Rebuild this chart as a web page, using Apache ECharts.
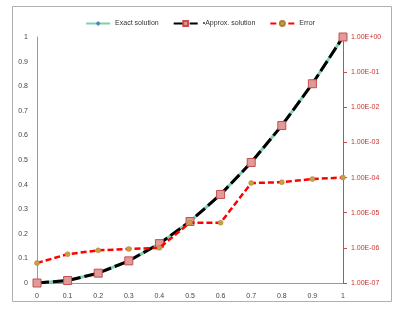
<!DOCTYPE html>
<html><head><meta charset="utf-8">
<script src="https://cdn.jsdelivr.net/npm/echarts@6/dist/echarts.min.js"></script>
<style>html,body{margin:0;padding:0;background:#fff}#c{width:400px;height:309px}</style>
</head><body><div id="c"></div>
<script>
const xValues = [0, 0.1, 0.2, 0.3, 0.4, 0.5, 0.6, 0.7, 0.8, 0.9, 1];
const exactValues = [0, 0.01, 0.04, 0.09, 0.16, 0.25, 0.36, 0.49, 0.64, 0.81, 1];
const approxValues = [0, 0.01, 0.04, 0.09, 0.16, 0.25, 0.36, 0.49, 0.64, 0.81, 1];
const errorValues = [3.7e-7, 6.6e-7, 8.5e-7, 9.3e-7, 1.0e-6, 5.2e-6, 5.2e-6, 7.0e-5, 7.4e-5, 9.1e-5, 1.0e-4];
const seriesNames = ['Exact solution', '\u2022Approx. solution', 'Error'];

const pair = (ys) => xValues.map((x, i) => [x, ys[i]]);
function sci(v) {
  const e = Math.round(Math.log10(v));
  const m = v / Math.pow(10, e);
  const sign = e < 0 ? '-' : '+';
  const a = Math.abs(e);
  return m.toFixed(2) + 'E' + sign + (a < 10 ? '0' + a : a);
}
const font = 'Liberation Sans';
const chart = echarts.init(document.getElementById('c'), null, {renderer: 'canvas'});
chart.setOption({
  animation: false,
  textStyle: {fontFamily: font},
  graphic: [{type: 'rect', shape: {x: 12.5, y: 6.5, width: 379, height: 295}, style: {fill: 'none', stroke: '#b0b0b0', lineWidth: 1}, silent: true}],
  legend: {
    top: 15, left: 'center', itemWidth: 24, itemHeight: 6, itemGap: 14,
    textStyle: {fontSize: 7, color: '#333', fontFamily: font},
    data: seriesNames
  },
  grid: {left: 37, right: 57, top: 37, bottom: 26},
  xAxis: {
    type: 'value', min: 0, max: 1, interval: 0.1,
    axisLine: {lineStyle: {color: '#9a9a9a'}},
    axisTick: {show: false},
    splitLine: {show: false},
    axisLabel: {fontSize: 7, color: '#444', margin: 10, formatter: v => String(+v.toFixed(1))}
  },
  yAxis: [{
    type: 'value', min: 0, max: 1, interval: 0.1,
    axisLine: {show: true, lineStyle: {color: '#9a9a9a'}},
    axisTick: {show: false},
    splitLine: {show: false},
    axisLabel: {fontSize: 7, color: '#444', margin: 9, formatter: v => String(+v.toFixed(1))}
  }, {
    type: 'log', logBase: 10, min: 1e-7, max: 1, position: 'right',
    axisLine: {show: true, onZero: false, lineStyle: {color: '#c0504d'}},
    axisTick: {show: true, length: 4, lineStyle: {color: '#c0504d'}},
    splitLine: {show: false},
    axisLabel: {fontSize: 7, color: '#d03030', margin: 8, formatter: v => sci(v)}
  }],
  series: [{
    name: seriesNames[0], type: 'line', data: pair(exactValues), yAxisIndex: 0,
    lineStyle: {color: '#7fd1ae', width: 3},
    itemStyle: {color: '#4f81bd'}, symbol: 'diamond', symbolSize: 6, z: 2
  }, {
    name: seriesNames[1], type: 'line', data: pair(approxValues), yAxisIndex: 0,
    lineStyle: {color: '#000', width: 3, type: [12, 4]},
    itemStyle: {color: '#e09a9a', borderColor: '#c0504d', borderWidth: 1},
    symbol: 'rect', symbolSize: 8, z: 3
  }, {
    name: seriesNames[2], type: 'line', data: pair(errorValues), yAxisIndex: 1,
    lineStyle: {color: '#ff0000', width: 2.5, type: [6, 3]},
    itemStyle: {color: '#c8a048', borderColor: '#b08030', borderWidth: 0.5},
    symbol: 'circle', symbolSize: 5, z: 4
  }]
});
</script></body></html>
